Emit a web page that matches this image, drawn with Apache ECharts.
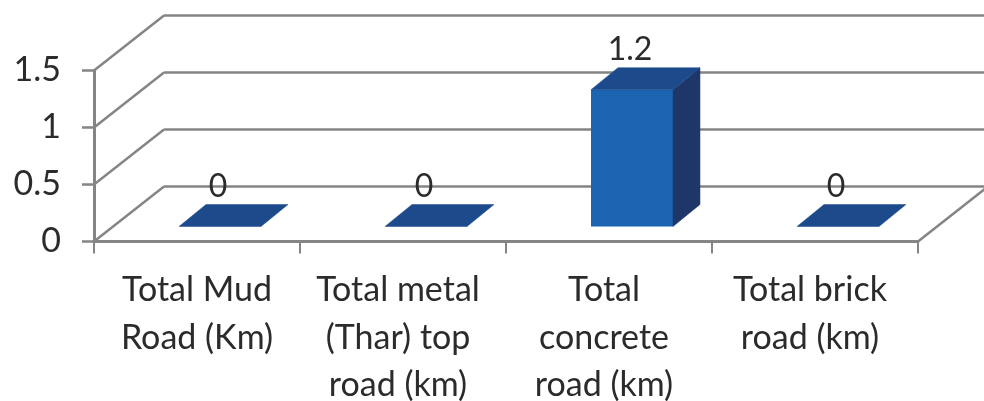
<!DOCTYPE html>
<html>
<head>
<meta charset="utf-8">
<style>html,body{margin:0;padding:0;background:#fff}#c{width:984px;height:401px}</style>
<script src="https://cdn.jsdelivr.net/npm/echarts@6/dist/echarts.min.js"></script>
</head>
<body>
<div id="c"></div>
<script>
var categories = ['Total Mud\nRoad (Km)', 'Total metal\n(Thar) top\nroad (km)', 'Total\nconcrete\nroad (km)', 'Total brick\nroad (km)'];
var values = [0, 0, 1.2, 0];
var yTicks = [0, 0.5, 1, 1.5];

var GREY = '#858585', TXT = '#2b2b2b', FONT = 'Lato, "Open Sans", sans-serif';
var WALL_DX = 70, WALL_DY = -55;   // floor depth
var OFF_DX = 23, OFF_DY = -15;     // bar front offset from the axis plane
var BAR_W = 82, BAR_DX = 27, BAR_DY = -22; // bar width, depth

var chart = echarts.init(document.getElementById('c'), null, {renderer: 'canvas'});

function line(x1, y1, x2, y2, w) {
  return {type: 'line', shape: {x1: x1, y1: y1, x2: x2, y2: y2},
    style: {stroke: GREY, lineWidth: w || 2.5, fill: null}};
}
function poly(points, color) {
  return {type: 'polygon', shape: {points: points}, style: {fill: color, stroke: color, lineWidth: 0.5}};
}
var labelStyle = {color: TXT, fontFamily: FONT, fontSize: 34, lineHeight: 47.5};

chart.setOption({
  animation: false,
  backgroundColor: '#fff',
  grid: {left: 94, right: 66, top: 70.5, bottom: 159.5, outerBoundsMode: 'none', containLabel: false},
  xAxis: {
    type: 'category', data: categories,
    axisLine: {show: true, onZero: false, lineStyle: {color: GREY, width: 3}},
    axisTick: {show: true, alignWithLabel: false, length: 12, lineStyle: {color: GREY, width: 2}},
    axisLabel: {
      color: TXT, fontFamily: FONT, fontSize: 34, lineHeight: 47.5, margin: 25, interval: 0,
      overflow: 'none', hideOverlap: false,
      formatter: function (v, i) {
        var key = i === 0 ? 'first' : 'rest';
        return v.split('\n').map(function (s) { return '{' + key + '|' + s + '}'; }).join('\n');
      },
      rich: {
        first: labelStyle,
        rest: Object.assign({padding: [0, 10, 0, 0]}, labelStyle)
      }
    },
    splitLine: {show: false}
  },
  yAxis: {
    type: 'value', min: 0, max: 1.5, interval: 0.5,
    axisLine: {show: true, lineStyle: {color: GREY, width: 3}},
    axisTick: {show: true, length: 12, lineStyle: {color: GREY, width: 2.5}},
    axisLabel: {color: TXT, fontFamily: FONT, fontSize: 34, margin: 33,
      formatter: function (v) { return String(v); }},
    splitLine: {show: false}
  },
  series: [
    {
      type: 'custom', coordinateSystem: 'cartesian2d', clip: false, silent: true, z: 1,
      data: yTicks.map(function (t) { return [0, t]; }),
      encode: {x: 0, y: 1},
      renderItem: function (params, api) {
        var y = api.coord([0, api.value(1)])[1];
        var r = params.coordSys;
        var x0 = r.x, x1 = r.x + r.width;
        var kids = [
          line(x0, y, x0 + WALL_DX, y + WALL_DY),
          line(x0 + WALL_DX, y + WALL_DY, x1 + WALL_DX, y + WALL_DY)
        ];
        if (api.value(1) === 0) kids.push(line(x1, y, x1 + WALL_DX, y + WALL_DY));
        return {type: 'group', children: kids};
      }
    },
    {
      type: 'custom', coordinateSystem: 'cartesian2d', clip: false, silent: true, z: 3,
      data: values.map(function (v, i) { return [i, v]; }),
      encode: {x: 0, y: 1},
      renderItem: function (params, api) {
        var base = api.coord([api.value(0), 0]);
        var top = api.coord([api.value(0), api.value(1)]);
        var l = base[0] + OFF_DX - BAR_W / 2, r = l + BAR_W;
        var b = base[1] + OFF_DY, t = top[1] + OFF_DY;
        var kids = [];
        if (api.value(1) > 0) {
          kids.push({type: 'rect', shape: {x: l, y: t, width: BAR_W, height: b - t},
            style: {fill: '#1a64b2'}});
          kids.push(poly([[r, t], [r + BAR_DX, t + BAR_DY], [r + BAR_DX, b + BAR_DY], [r, b]], '#1f3768'));
        }
        kids.push(poly([[l, t], [r, t], [r + BAR_DX, t + BAR_DY], [l + BAR_DX, t + BAR_DY]], '#1d4a8a'));
        kids.push({type: 'text', style: {
          text: String(api.value(1)), x: (l + r) / 2 - 2, y: t + BAR_DY - 18,
          fill: TXT, font: '32px ' + FONT, align: 'center', verticalAlign: 'middle'
        }});
        return {type: 'group', children: kids};
      }
    }
  ]
});
</script>
</body>
</html>
